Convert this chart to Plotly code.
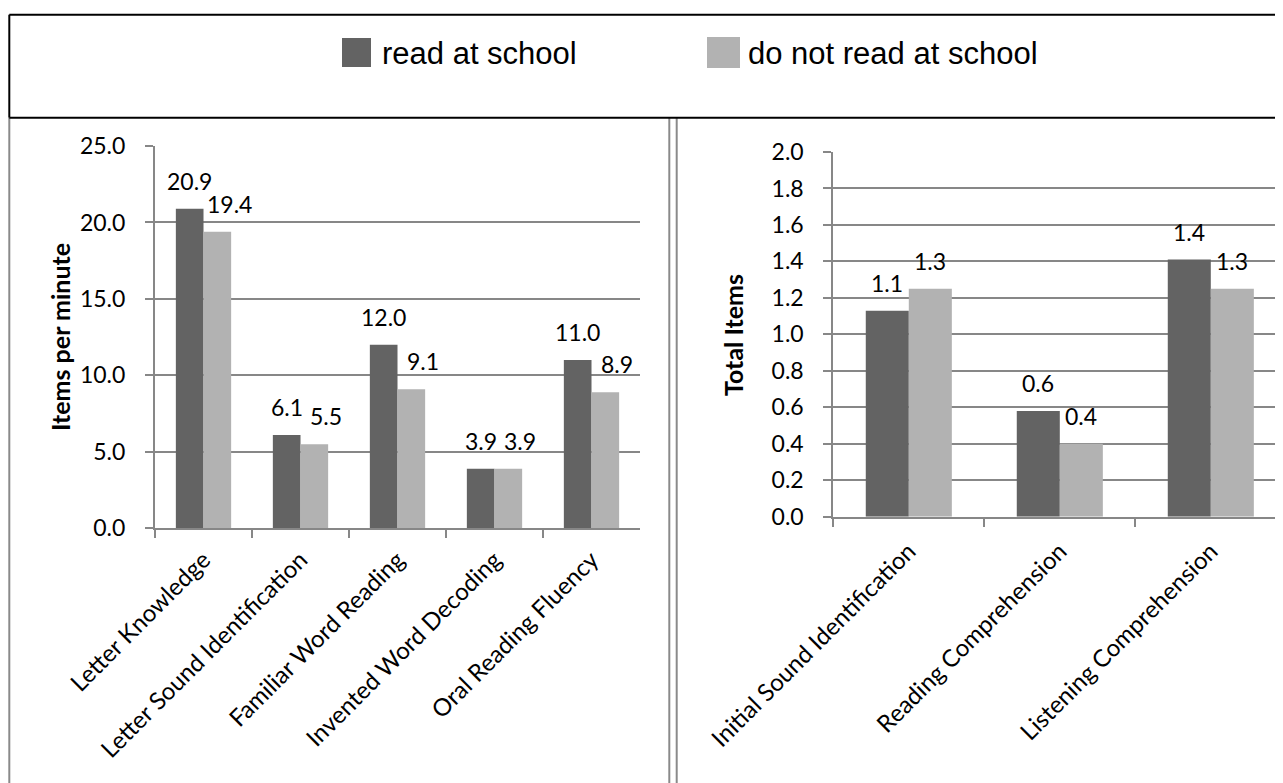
import plotly.graph_objects as go

# ---- data ----
left_categories = ["Letter Knowledge", "Letter Sound Identification", "Familiar Word Reading",
                   "Invented Word Decoding", "Oral Reading Fluency"]
left_read = [20.9, 6.1, 12.0, 3.9, 11.0]
left_not_read = [19.4, 5.5, 9.1, 3.9, 8.9]

right_categories = ["Initial Sound Identification", "Reading Comprehension", "Listening Comprehension"]
right_read = [1.13, 0.58, 1.41]
right_not_read = [1.25, 0.40, 1.25]

series_names = ["read at school", "do not read at school"]
left_ticks = [0, 5, 10, 15, 20, 25]
right_ticks = [0, 0.2, 0.4, 0.6, 0.8, 1.0, 1.2, 1.4, 1.6, 1.8, 2.0]
left_title = "Items per minute"
right_title = "Total Items"

# ---- style ----
DARK = "#636363"
LIGHT = "#b2b2b2"
GRID = "#878787"
PANEL = "#8a8a8a"
W, H = 1283, 783
OFF = 8  # page body margin that offsets the figure on screen
BARGAP = 0.43
FONT = "Lato, Carlito, Noto Sans, sans-serif"

def px(x):
    return (x - OFF) / W

def py(y):
    return 1 - (y - OFF) / H

fig = go.Figure()

def bar(x, y, name, color, xa, ya):
    return go.Bar(x=x, y=y, name=name, marker_color=color, marker_line_width=0,
                  xaxis=xa, yaxis=ya, showlegend=False, hoverinfo="x+y+name")

fig.add_trace(bar(left_categories, left_read, series_names[0], DARK, "x", "y"))
fig.add_trace(bar(left_categories, left_not_read, series_names[1], LIGHT, "x", "y"))
fig.add_trace(bar(right_categories, right_read, series_names[0], DARK, "x2", "y2"))
fig.add_trace(bar(right_categories, right_not_read, series_names[1], LIGHT, "x2", "y2"))

tickfont = dict(family=FONT, size=23, color="#000000")
catfont = dict(family=FONT, size=24, color="#000000")

common_x = dict(type="category", showgrid=False, showline=True, linecolor=GRID, linewidth=2,
                ticks="outside", tickson="boundaries", ticklen=8, tickcolor=GRID, tickwidth=2,
                tickangle=-45, tickfont=catfont, automargin=False)
common_y = dict(showgrid=True, gridcolor=GRID, gridwidth=2, showline=True, linecolor=GRID,
                linewidth=2, ticks="outside", ticklen=8, tickcolor=GRID, tickwidth=2,
                tickfont=tickfont, tickformat=".1f", zeroline=False, ticklabelstandoff=15,
                automargin=False)

# right plot reaches past the window edge: extend its category range accordingly
right_px_per_cat = (984.3 - 833.3)
right_end = -0.5 + (W + OFF - 833.3) / right_px_per_cat

fig.update_layout(
    width=W, height=H, autosize=False,
    margin=dict(l=0, r=0, t=0, b=0, pad=0, autoexpand=False),
    paper_bgcolor="white", plot_bgcolor="white",
    barmode="group",
    bargap=BARGAP, bargroupgap=0,
    xaxis=dict(domain=[px(155), px(640)], anchor="y", range=[-0.5, len(left_categories) - 0.5],
               ticklabelstandoff=6, **common_x),
    yaxis=dict(domain=[py(528.3), py(146)], anchor="x", range=[0, 25], tickvals=left_ticks, **common_y),
    xaxis2=dict(domain=[px(833.3), 1.0], anchor="y2", range=[-0.5, right_end],
                ticklabelstandoff=9, **common_x),
    yaxis2=dict(domain=[py(516.7), py(152)], anchor="x2", range=[0, 2.0], tickvals=right_ticks, **common_y),
    showlegend=False,
    font=dict(family=FONT),
)

annotations = []
title_font = dict(family=FONT, size=25, color="#000000")
annotations.append(dict(text="<b>%s</b>" % left_title, x=px(60), y=py(337), xref="paper", yref="paper",
                        xanchor="center", yanchor="middle",
                        textangle=-90, showarrow=False, font=title_font))
annotations.append(dict(text="<b>%s</b>" % right_title, x=px(733), y=py(335), xref="paper", yref="paper",
                        xanchor="center", yanchor="middle",
                        textangle=-90, showarrow=False, font=title_font))

# data labels above bars (positioned on each grouped bar through the axis scale)
half = (1 - BARGAP) / 4
label_font = dict(family=FONT, size=23, color="#000000")
for xa, ya, cats, vals_a, vals_b, nudge in [("x", "y", left_categories, left_read, left_not_read, 12),
                                            ("x2", "y2", right_categories, right_read, right_not_read, 0)]:
    for i, _ in enumerate(cats):
        for off, v, xs in ((-half, vals_a[i], 0), (half, vals_b[i], nudge)):
            annotations.append(dict(x=i + off, y=v, xref=xa, yref=ya, text="%.1f" % (v + 1e-9),
                                    showarrow=False, yanchor="bottom", xanchor="center",
                                    xshift=xs, yshift=12, font=label_font))

# legend drawn in the top box
legend_items = [(series_names[0], DARK, 342, 371, 38, 67, 380),
                (series_names[1], LIGHT, 707, 740, 37, 68, 746)]
shapes = []
for name, color, x0, x1, y0, y1, tx in legend_items:
    shapes.append(dict(type="rect", xref="paper", yref="paper", x0=px(x0), x1=px(x1),
                       y0=py(y1), y1=py(y0), line=dict(width=0), fillcolor=color))
    annotations.append(dict(text=name, x=px(tx), y=py(54), xref="paper", yref="paper",
                            xanchor="left", yanchor="middle", showarrow=False,
                            font=dict(family="Liberation Sans, Arial, sans-serif", size=31, color="#000000")))

fig.update_layout(annotations=annotations)

def line(x0, y0, x1, y1, color, w):
    return dict(type="line", xref="paper", yref="paper", x0=x0, x1=x1, y0=y0, y1=y1,
                line=dict(color=color, width=w))

shapes += [
    line(px(9.3), py(14.7), 1.0, py(14.7), "black", 2),
    line(px(9.3), py(14.7), px(9.3), py(117.7), "black", 2),
    line(px(9.3), py(117.7), px(9.3), 0, PANEL, 2),
    line(px(669.3), py(117.7), px(669.3), 0, PANEL, 2),
    line(px(676.7), py(117.7), px(676.7), 0, PANEL, 2),
    line(px(9.3), py(117.7), 1.0, py(117.7), "black", 2),
]
fig.update_layout(shapes=shapes)

fig.write_html("out.html")
